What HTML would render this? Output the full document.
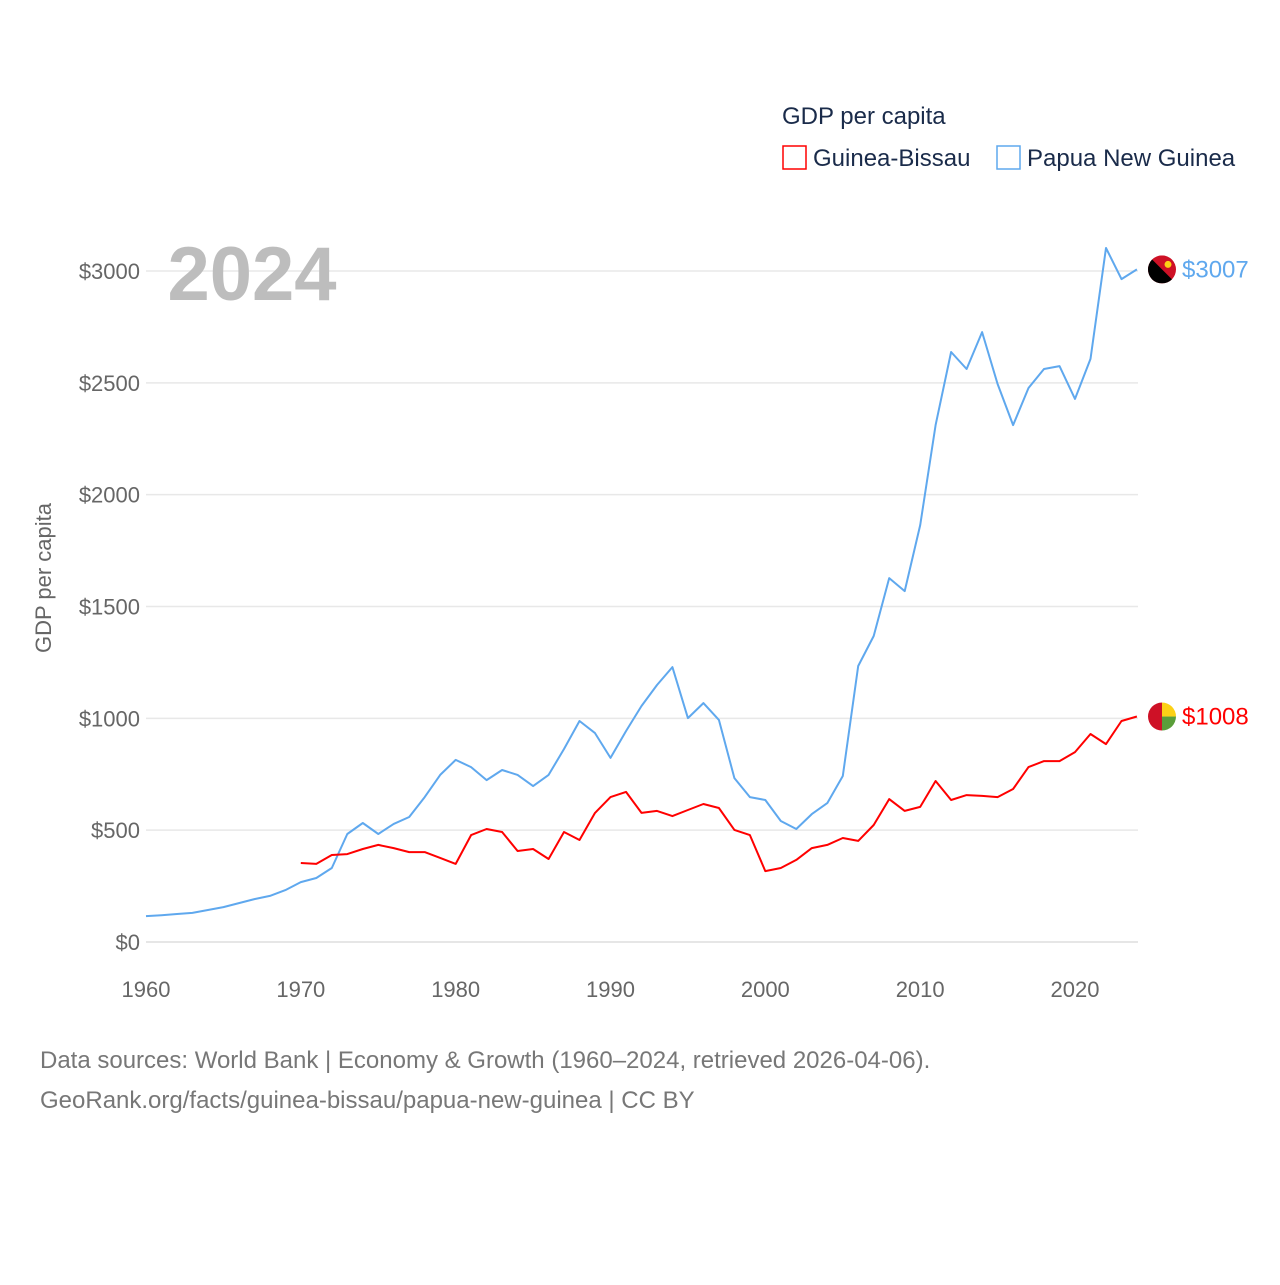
<!DOCTYPE html>
<html><head><meta charset="utf-8"><style>
body{margin:0;background:#fff;}
svg text{font-family:"Liberation Sans",sans-serif;}
</style></head><body>
<svg width="1280" height="1280" viewBox="0 0 1280 1280" xmlns="http://www.w3.org/2000/svg">
<g id="grid"></g><g id="ticks"></g>
<text x="252" y="300" font-size="76" font-weight="bold" fill="#bdbdbd" text-anchor="middle">2024</text>
<text transform="translate(51,578) rotate(-90)" font-size="22" fill="#666" text-anchor="middle">GDP per capita</text>
<text x="782" y="124" font-size="24" fill="#1a2b4a">GDP per capita</text>
<g><rect x="783" y="146" width="23" height="23" fill="none" stroke="#f00" stroke-width="1.5"/><text x="813" y="166" font-size="24" fill="#1a2b4a">Guinea-Bissau</text></g>
<g><rect x="997" y="146" width="23" height="23" fill="none" stroke="#5fa8ee" stroke-width="1.5"/><text x="1027" y="166" font-size="24" fill="#1a2b4a">Papua New Guinea</text></g>
<g id="series"></g>
<text x="40" y="1068" font-size="24" fill="#777">Data sources: World Bank | Economy &amp; Growth (1960–2024, retrieved 2026-04-06).</text>
<text x="40" y="1108" font-size="24" fill="#777">GeoRank.org/facts/guinea-bissau/papua-new-guinea | CC BY</text>
</svg>
<script>
const yTicks=[0,500,1000,1500,2000,2500,3000];
const xTicks=[1960,1970,1980,1990,2000,2010,2020];
const pngStart=1960;
const pngValues=[116,120,125,130,143,156,174,192,206,232,268,286,331,483,532,483,528,559,648,747,814,782,724,769,747,697,747,863,988,934,823,943,1055,1149,1229,1001,1068,993,733,648,635,541,505,572,621,742,1234,1368,1627,1569,1864,2311,2638,2562,2727,2495,2311,2477,2562,2575,2428,2607,3103,2964,3007];
const gbStart=1970;
const gbValues=[353,349,389,393,416,434,420,402,402,376,349,478,505,492,407,416,371,492,456,577,648,671,577,586,563,590,617,599,501,478,317,331,367,420,434,465,452,523,639,586,604,720,635,657,653,648,684,782,809,809,849,930,885,988,1008];
const NS='http://www.w3.org/2000/svg';
const X=y=>146+(y-1960)*(1075-146)/60;
const Y=v=>942-v*(942-271)/3000;
function el(t,a,p){const e=document.createElementNS(NS,t);for(const k in a)e.setAttribute(k,a[k]);p.appendChild(e);return e;}
const grid=document.getElementById('grid'),ticks=document.getElementById('ticks'),ser=document.getElementById('series');
yTicks.forEach(v=>{
 const l=el('line',{x1:146,x2:1138,y1:Y(v),y2:Y(v),stroke:v===0?'#ddd':'#e8e8e8','stroke-width':1.5},grid);
 
 
 const t=el('text',{x:140,y:Y(v)+8,'font-size':22,fill:'#666','text-anchor':'end'},ticks);
 t.textContent='$'+v;
 
 
});
xTicks.forEach(y=>{
 const t=el('text',{x:X(y),y:997,'font-size':22,fill:'#666','text-anchor':'middle'},ticks);
 t.textContent=y;
 
 
});
function line(start,vals,col,name){
 const d=vals.map((v,i)=>(i?'L':'M')+X(start+i).toFixed(1)+','+Y(v).toFixed(1)).join('');
 const p=el('path',{d:d,fill:'none',stroke:col,'stroke-width':2,'stroke-linejoin':'round'},ser);
 
 
 const last=vals[vals.length-1],yy=Y(last);
 const t=el('text',{x:1182,y:yy+8,'font-size':24,fill:col},ser);
 t.textContent='$'+last;
 
 
 return yy;
}
const yp=line(pngStart,pngValues,'#5fa8ee','png-line');
const yg=line(gbStart,gbValues,'#f00','guinea-bissau-line');
// flags
const defs=el('defs',{},ser);
const c1=el('clipPath',{id:'cp1'},defs);el('circle',{cx:1162,cy:yp,r:14},c1);
const c2=el('clipPath',{id:'cp2'},defs);el('circle',{cx:1162,cy:yg,r:14},c2);
const f1=el('g',{'clip-path':'url(#cp1)'},ser);


el('rect',{x:1148,y:yp-14,width:28,height:28,fill:'#ce1126'},f1);
el('path',{d:`M1148,${yp-14}L1176,${yp+14}L1148,${yp+14}Z`,fill:'#000'},f1);
el('circle',{cx:1168,cy:yp-5,r:3.5,fill:'#fcd116'},f1);
const f2=el('g',{'clip-path':'url(#cp2)'},ser);


el('rect',{x:1162,y:yg-14,width:14,height:14,fill:'#fcd116'},f2);
el('rect',{x:1162,y:yg,width:14,height:14,fill:'#5a9e3a'},f2);
el('rect',{x:1148,y:yg-14,width:14,height:28,fill:'#ce1126'},f2);
</script>
</body></html>
